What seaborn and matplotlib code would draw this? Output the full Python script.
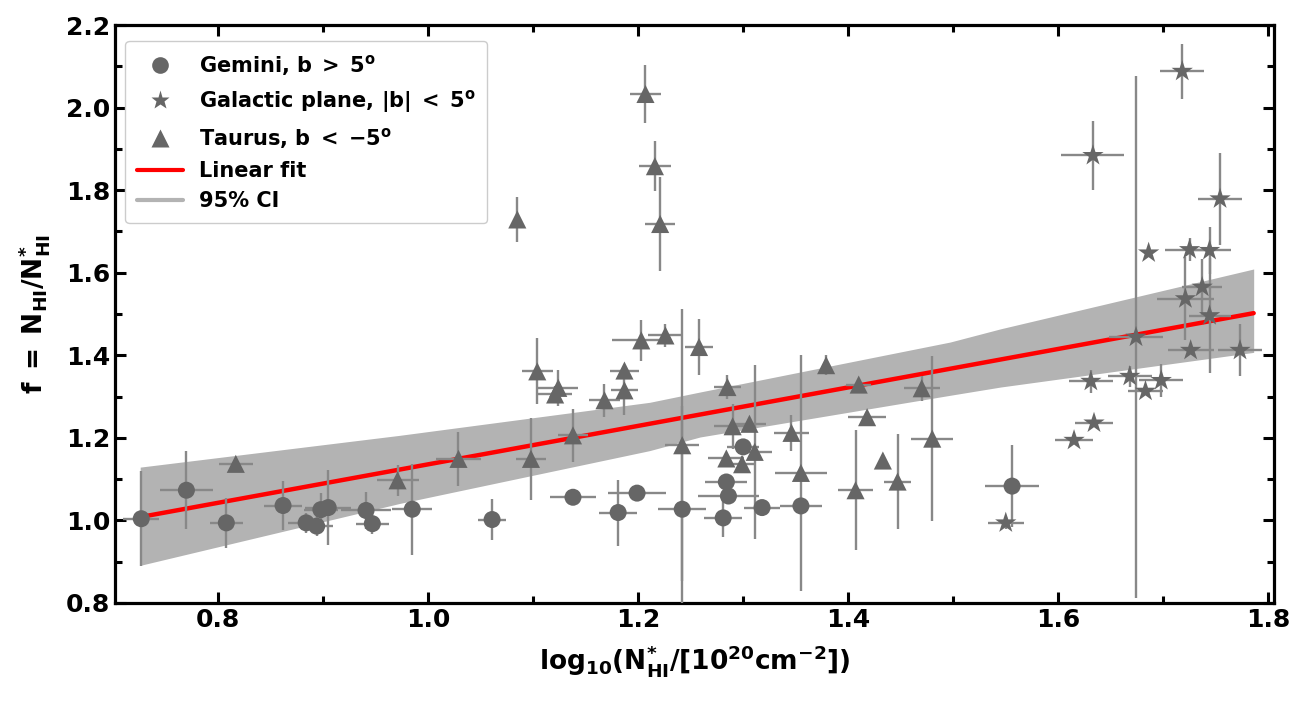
import numpy as np
import pandas as pd
import matplotlib
matplotlib.use("Agg")
import matplotlib.pyplot as plt
from matplotlib.lines import Line2D
import seaborn as sns

# ---- data ----
# Gemini, b > 5 deg (circles)
gem_x = [0.727, 0.770, 0.808, 0.862, 0.884, 0.894, 0.898, 0.905, 0.941, 0.947, 0.985, 1.061,
         1.138, 1.181, 1.199, 1.242, 1.281, 1.284, 1.286, 1.300, 1.318, 1.355, 1.556]
gem_y = [1.004, 1.073, 0.994, 1.036, 0.994, 0.986, 1.026, 1.031, 1.024, 0.992, 1.027, 1.002,
         1.056, 1.019, 1.066, 1.027, 1.006, 1.093, 1.059, 1.178, 1.031, 1.035, 1.083]
gem_xerr = [0.017, 0.025, 0.016, 0.018, 0.017, 0.016, 0.016, 0.022, 0.024, 0.016, 0.019, 0.013,
            0.022, 0.018, 0.028, 0.023, 0.018, 0.020, 0.029, 0.015, 0.017, 0.020, 0.026]
gem_yerr = [0.115, 0.094, 0.060, 0.060, 0.025, 0.025, 0.040, 0.090, 0.045, 0.025, 0.110, 0.050,
            0.0, 0.080, 0.0, 0.250, 0.047, 0.0, 0.0, 0.0, 0.0, 0.0, 0.100]

# Galactic plane, |b| < 5 deg (stars)
gal_x = [1.550, 1.615, 1.631, 1.633, 1.634, 1.668, 1.674, 1.683, 1.686, 1.698,
         1.718, 1.721, 1.725, 1.726, 1.737, 1.744, 1.744, 1.754, 1.773]
gal_y = [0.994, 1.194, 1.337, 1.884, 1.236, 1.349, 1.444, 1.313, 1.648, 1.339,
         2.088, 1.537, 1.656, 1.412, 1.565, 1.654, 1.496, 1.779, 1.412]
gal_xerr = [0.017, 0.018, 0.021, 0.030, 0.018, 0.021, 0.026, 0.017, 0.0, 0.021,
            0.021, 0.027, 0.023, 0.022, 0.019, 0.020, 0.020, 0.021, 0.021]
gal_yerr = [0.015, 0.0, 0.028, 0.083, 0.0, 0.025, 0.632, 0.0, 0.0, 0.040,
            0.067, 0.100, 0.027, 0.0, 0.068, 0.056, 0.140, 0.111, 0.063]

# Taurus, b < -5 deg (triangles)
tau_x = [0.817, 0.971, 1.029, 1.085, 1.098, 1.104, 1.121, 1.124, 1.138, 1.168, 1.187, 1.187,
         1.203, 1.207, 1.216, 1.221, 1.226, 1.242, 1.258, 1.284, 1.285, 1.290, 1.299, 1.306,
         1.311, 1.346, 1.355, 1.379, 1.407, 1.410, 1.418, 1.433, 1.447, 1.470, 1.480]
tau_y = [1.137, 1.097, 1.149, 1.729, 1.149, 1.361, 1.305, 1.321, 1.206, 1.291, 1.315, 1.363,
         1.436, 2.033, 1.858, 1.718, 1.448, 1.182, 1.420, 1.150, 1.323, 1.228, 1.136, 1.234,
         1.166, 1.212, 1.115, 1.376, 1.073, 1.329, 1.250, 1.145, 1.094, 1.320, 1.198]
tau_xerr = [0.016, 0.020, 0.021, 0.0, 0.014, 0.015, 0.016, 0.019, 0.014, 0.015, 0.013, 0.014,
            0.028, 0.015, 0.015, 0.014, 0.017, 0.016, 0.013, 0.017, 0.013, 0.018, 0.013, 0.016,
            0.016, 0.017, 0.025, 0.0, 0.017, 0.012, 0.018, 0.0, 0.013, 0.017, 0.020]
tau_yerr = [0.0, 0.037, 0.065, 0.055, 0.100, 0.080, 0.020, 0.043, 0.065, 0.040, 0.060, 0.0,
            0.050, 0.070, 0.060, 0.115, 0.028, 0.330, 0.067, 0.0, 0.030, 0.055, 0.020, 0.0,
            0.210, 0.043, 0.285, 0.025, 0.145, 0.0, 0.0, 0.0, 0.115, 0.030, 0.200]

# linear fit and 95% CI band
fit_x = [0.726, 1.786]
fit_y = [1.008, 1.502]
band_x = [0.726, 0.973, 1.211, 1.259, 1.497, 1.545, 1.786]
band_lo = [0.891, 1.041, 1.169, 1.202, 1.303, 1.323, 1.407]
band_hi = [1.129, 1.206, 1.286, 1.311, 1.432, 1.464, 1.609]

labels = [r"Gemini, $b\;>\;5^o$", r"Galactic plane, $|b|\;<\;5^o$",
          r"Taurus, $b\;<\;{-5}^o$", "Linear fit", "95% CI"]

# ---- style ----
sns.set_theme(style="ticks")
plt.rcParams["font.family"] = ["DejaVu Sans"]
plt.rcParams["font.weight"] = "bold"
plt.rcParams["mathtext.default"] = "bf"
plt.rcParams["axes.linewidth"] = 2.3
plt.rcParams["text.color"] = "black"
plt.rcParams["axes.labelcolor"] = "black"
plt.rcParams["xtick.color"] = "black"
plt.rcParams["ytick.color"] = "black"

marker_col = "#666666"
err_col = "#888888"
band_col = "#b3b3b3"

df = pd.concat([
    pd.DataFrame({"x": gem_x, "y": gem_y, "region": "gem"}),
    pd.DataFrame({"x": gal_x, "y": gal_y, "region": "gal"}),
    pd.DataFrame({"x": tau_x, "y": tau_y, "region": "tau"}),
])

fig, ax = plt.subplots(figsize=(13.11, 7.11), dpi=100)
fig.subplots_adjust(left=0.0877, right=0.9715, top=0.9648, bottom=0.152)

ax.fill_between(band_x, band_lo, band_hi, color=band_col, lw=0, zorder=1)
sns.lineplot(x=fit_x, y=fit_y, color="red", lw=3.2, ax=ax, zorder=2)

for xs, ys, xe, ye in [(gem_x, gem_y, gem_xerr, gem_yerr),
                       (gal_x, gal_y, gal_xerr, gal_yerr),
                       (tau_x, tau_y, tau_xerr, tau_yerr)]:
    ax.errorbar(xs, ys, xerr=xe, yerr=ye, fmt="none", ecolor=err_col,
                elinewidth=1.7, capsize=0, zorder=3)

sizes = {"gem": 150, "gal": 260, "tau": 170}
for reg, mk in [("gem", "o"), ("gal", "*"), ("tau", "^")]:
    sub = df[df["region"] == reg]
    sns.scatterplot(data=sub, x="x", y="y", marker=mk, s=sizes[reg], color=marker_col,
                    edgecolor="none", linewidth=0, ax=ax, zorder=4, legend=False)

ax.set_xlim(0.702, 1.805)
ax.set_ylim(0.8, 2.2)
ax.set_xticks([0.8, 1.0, 1.2, 1.4, 1.6, 1.8])
ax.set_xticks(np.arange(0.8, 1.81, 0.1), minor=True)
ax.set_yticks([0.8, 1.0, 1.2, 1.4, 1.6, 1.8, 2.0, 2.2])
ax.set_yticks(np.arange(0.8, 2.21, 0.1), minor=True)
ax.tick_params(which="both", direction="in", top=True, right=True, width=2.2,
               color="black", labelcolor="black", labelsize=18)
ax.tick_params(which="major", length=8)
ax.tick_params(which="minor", length=5)
for lab in ax.get_xticklabels() + ax.get_yticklabels():
    lab.set_fontweight("bold")
for sp in ax.spines.values():
    sp.set_color("black")

ax.set_xlabel(r"$log_{10}(N^{*}_{HI}/[10^{20}cm^{-2}])$", fontsize=19, labelpad=8,
              color="black")
ax.set_ylabel(r"$f\;=\;N_{HI}/N^{*}_{HI}$", fontsize=19, labelpad=10, color="black")

handles = [
    Line2D([], [], ls="none", marker="o", ms=12, color=marker_col, mec="none"),
    Line2D([], [], ls="none", marker="*", ms=14, color=marker_col, mec="none"),
    Line2D([], [], ls="none", marker="^", ms=13, color=marker_col, mec="none"),
    Line2D([], [], color="red", lw=3),
    Line2D([], [], color=band_col, lw=3),
]
leg = ax.legend(handles, labels, loc="upper left", fontsize=15, frameon=True,
                fancybox=True, framealpha=1, edgecolor="#cccccc",
                labelspacing=0.5, handlelength=2.2, borderpad=0.55,
                bbox_to_anchor=(0.0, 0.99))
for t in leg.get_texts():
    t.set_fontweight("bold")
    t.set_color("black")

fig.savefig("out.png", dpi=100)
